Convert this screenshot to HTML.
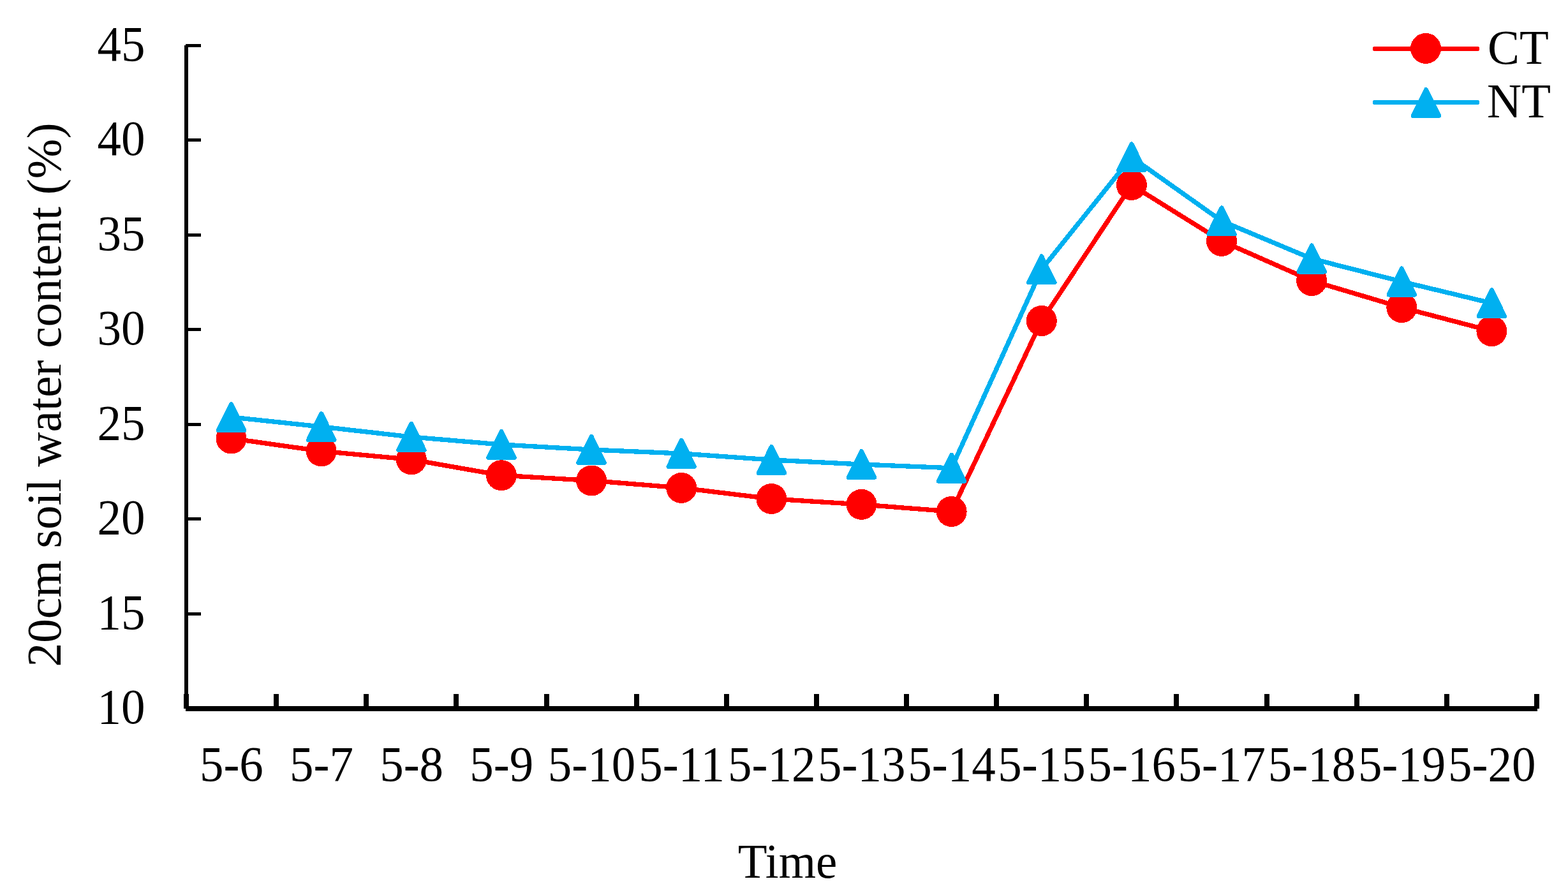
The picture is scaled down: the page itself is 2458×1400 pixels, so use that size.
<!DOCTYPE html>
<html lang="en">
<head>
<meta charset="utf-8">
<title>20cm soil water content (%) over Time: CT vs NT</title>
<style>
html, body { margin: 0; padding: 0; background: #ffffff; }
body { width: 2458px; height: 1400px; overflow: hidden; }
svg { display: block; }
text { font-family: "Liberation Serif", "Times New Roman", Times, serif; font-size: 75px; fill: #000000; }
.ax { fill: #000000; shape-rendering: crispEdges; }
.series { shape-rendering: crispEdges; }
</style>
</head>
<body>
<svg width="2458" height="1400" viewBox="0 0 2458 1400">
<rect x="0" y="0" width="2458" height="1400" fill="#ffffff"/>

<g class="ax">
<rect x="289" y="71" width="6" height="1040"/>
<rect x="291" y="1107" width="2119" height="8"/>
<rect x="291" y="69" width="24" height="5"/>
<rect x="291" y="217" width="24" height="5"/>
<rect x="291" y="366" width="24" height="5"/>
<rect x="291" y="514" width="24" height="5"/>
<rect x="291" y="663" width="24" height="5"/>
<rect x="291" y="811" width="24" height="5"/>
<rect x="291" y="960" width="24" height="5"/>
<rect x="288" y="1088" width="8" height="23"/>
<rect x="429" y="1088" width="8" height="23"/>
<rect x="570" y="1088" width="8" height="23"/>
<rect x="711" y="1088" width="8" height="23"/>
<rect x="853" y="1088" width="8" height="23"/>
<rect x="994" y="1088" width="8" height="23"/>
<rect x="1135" y="1088" width="8" height="23"/>
<rect x="1276" y="1088" width="8" height="23"/>
<rect x="1417" y="1088" width="8" height="23"/>
<rect x="1558" y="1088" width="8" height="23"/>
<rect x="1699" y="1088" width="8" height="23"/>
<rect x="1840" y="1088" width="8" height="23"/>
<rect x="1982" y="1088" width="8" height="23"/>
<rect x="2123" y="1088" width="8" height="23"/>
<rect x="2264" y="1088" width="8" height="23"/>
<rect x="2405" y="1088" width="8" height="23"/>
</g>
<g text-anchor="end">
<text transform="translate(227.50 94.80) scale(1 1.04)">45</text>
<text transform="translate(227.50 243.30) scale(1 1.04)">40</text>
<text transform="translate(227.50 391.80) scale(1 1.04)">35</text>
<text transform="translate(227.50 540.30) scale(1 1.04)">30</text>
<text transform="translate(227.50 688.80) scale(1 1.04)">25</text>
<text transform="translate(227.50 837.30) scale(1 1.04)">20</text>
<text transform="translate(227.50 985.80) scale(1 1.04)">15</text>
<text transform="translate(227.50 1134.30) scale(1 1.04)">10</text>
</g>
<g text-anchor="middle">
<text transform="translate(362.87 1224.00) scale(1 1.04)">5-6</text>
<text transform="translate(504.00 1224.00) scale(1 1.04)">5-7</text>
<text transform="translate(645.13 1224.00) scale(1 1.04)">5-8</text>
<text transform="translate(786.27 1224.00) scale(1 1.04)">5-9</text>
<text transform="translate(927.40 1224.00) scale(1 1.04)">5-10</text>
<text transform="translate(1068.53 1224.00) scale(1 1.04)">5-11</text>
<text transform="translate(1209.67 1224.00) scale(1 1.04)">5-12</text>
<text transform="translate(1350.80 1224.00) scale(1 1.04)">5-13</text>
<text transform="translate(1491.93 1224.00) scale(1 1.04)">5-14</text>
<text transform="translate(1633.07 1224.00) scale(1 1.04)">5-15</text>
<text transform="translate(1774.20 1224.00) scale(1 1.04)">5-16</text>
<text transform="translate(1915.33 1224.00) scale(1 1.04)">5-17</text>
<text transform="translate(2056.47 1224.00) scale(1 1.04)">5-18</text>
<text transform="translate(2197.60 1224.00) scale(1 1.04)">5-19</text>
<text transform="translate(2338.73 1224.00) scale(1 1.04)">5-20</text>
<text transform="translate(1234.50 1376.00) scale(1 1.015)">Time</text>
<text transform="translate(95.00 619.00) rotate(-90) scale(1.004 1.015)">20cm soil water content (%)</text>
</g>
<g class="series">
<polyline points="362.57,687.40 503.70,707.30 644.83,720.40 785.97,745.20 927.10,753.50 1068.23,764.90 1209.37,782.00 1350.50,790.90 1491.63,802.00 1632.77,503.00 1773.90,290.00 1915.03,377.90 2056.17,440.10 2197.30,482.10 2338.43,519.10" fill="none" stroke="#ff0000" stroke-width="7.3" stroke-linejoin="round" stroke-linecap="round"/>
<polyline points="362.57,654.00 503.70,669.00 644.83,685.00 785.97,697.00 927.10,705.00 1068.23,711.00 1209.37,721.00 1350.50,728.00 1491.63,733.80 1632.77,422.30 1773.90,246.40 1915.03,346.40 2056.17,405.50 2197.30,441.50 2338.43,475.30" fill="none" stroke="#00b0f0" stroke-width="7.3" stroke-linejoin="round" stroke-linecap="round"/>
<circle cx="362.57" cy="687.40" r="24" fill="#ff0000"/>
<circle cx="503.70" cy="707.30" r="24" fill="#ff0000"/>
<circle cx="644.83" cy="720.40" r="24" fill="#ff0000"/>
<circle cx="785.97" cy="745.20" r="24" fill="#ff0000"/>
<circle cx="927.10" cy="753.50" r="24" fill="#ff0000"/>
<circle cx="1068.23" cy="764.90" r="24" fill="#ff0000"/>
<circle cx="1209.37" cy="782.00" r="24" fill="#ff0000"/>
<circle cx="1350.50" cy="790.90" r="24" fill="#ff0000"/>
<circle cx="1491.63" cy="802.00" r="24" fill="#ff0000"/>
<circle cx="1632.77" cy="503.00" r="24" fill="#ff0000"/>
<circle cx="1773.90" cy="290.00" r="24" fill="#ff0000"/>
<circle cx="1915.03" cy="377.90" r="24" fill="#ff0000"/>
<circle cx="2056.17" cy="440.10" r="24" fill="#ff0000"/>
<circle cx="2197.30" cy="482.10" r="24" fill="#ff0000"/>
<circle cx="2338.43" cy="519.10" r="24" fill="#ff0000"/>
<polygon points="362.57,633.50 382.82,674.50 342.32,674.50" fill="#00b0f0" stroke="#00b0f0" stroke-width="7" stroke-linejoin="round"/>
<polygon points="503.70,648.50 523.95,689.50 483.45,689.50" fill="#00b0f0" stroke="#00b0f0" stroke-width="7" stroke-linejoin="round"/>
<polygon points="644.83,664.50 665.08,705.50 624.58,705.50" fill="#00b0f0" stroke="#00b0f0" stroke-width="7" stroke-linejoin="round"/>
<polygon points="785.97,676.50 806.22,717.50 765.72,717.50" fill="#00b0f0" stroke="#00b0f0" stroke-width="7" stroke-linejoin="round"/>
<polygon points="927.10,684.50 947.35,725.50 906.85,725.50" fill="#00b0f0" stroke="#00b0f0" stroke-width="7" stroke-linejoin="round"/>
<polygon points="1068.23,690.50 1088.48,731.50 1047.98,731.50" fill="#00b0f0" stroke="#00b0f0" stroke-width="7" stroke-linejoin="round"/>
<polygon points="1209.37,700.50 1229.62,741.50 1189.12,741.50" fill="#00b0f0" stroke="#00b0f0" stroke-width="7" stroke-linejoin="round"/>
<polygon points="1350.50,707.50 1370.75,748.50 1330.25,748.50" fill="#00b0f0" stroke="#00b0f0" stroke-width="7" stroke-linejoin="round"/>
<polygon points="1491.63,713.30 1511.88,754.30 1471.38,754.30" fill="#00b0f0" stroke="#00b0f0" stroke-width="7" stroke-linejoin="round"/>
<polygon points="1632.77,401.80 1653.02,442.80 1612.52,442.80" fill="#00b0f0" stroke="#00b0f0" stroke-width="7" stroke-linejoin="round"/>
<polygon points="1773.90,225.90 1794.15,266.90 1753.65,266.90" fill="#00b0f0" stroke="#00b0f0" stroke-width="7" stroke-linejoin="round"/>
<polygon points="1915.03,325.90 1935.28,366.90 1894.78,366.90" fill="#00b0f0" stroke="#00b0f0" stroke-width="7" stroke-linejoin="round"/>
<polygon points="2056.17,385.00 2076.42,426.00 2035.92,426.00" fill="#00b0f0" stroke="#00b0f0" stroke-width="7" stroke-linejoin="round"/>
<polygon points="2197.30,421.00 2217.55,462.00 2177.05,462.00" fill="#00b0f0" stroke="#00b0f0" stroke-width="7" stroke-linejoin="round"/>
<polygon points="2338.43,454.80 2358.68,495.80 2318.18,495.80" fill="#00b0f0" stroke="#00b0f0" stroke-width="7" stroke-linejoin="round"/>
</g>
<g class="series">
<line x1="2155.5" y1="76.4" x2="2315.7" y2="76.4" stroke="#ff0000" stroke-width="7.3" stroke-linecap="round"/>
<circle cx="2235.00" cy="75.90" r="24" fill="#ff0000"/>
<text transform="translate(2332.00 99.50) scale(1 1.015)">CT</text>
<line x1="2155.5" y1="160.4" x2="2315.7" y2="160.4" stroke="#00b0f0" stroke-width="7.3" stroke-linecap="round"/>
<polygon points="2235.50,140.40 2255.75,181.40 2215.25,181.40" fill="#00b0f0" stroke="#00b0f0" stroke-width="7" stroke-linejoin="round"/>
<text transform="translate(2331.00 184.00) scale(1 1.015)">NT</text>
</g>
</svg>
</body>
</html>
